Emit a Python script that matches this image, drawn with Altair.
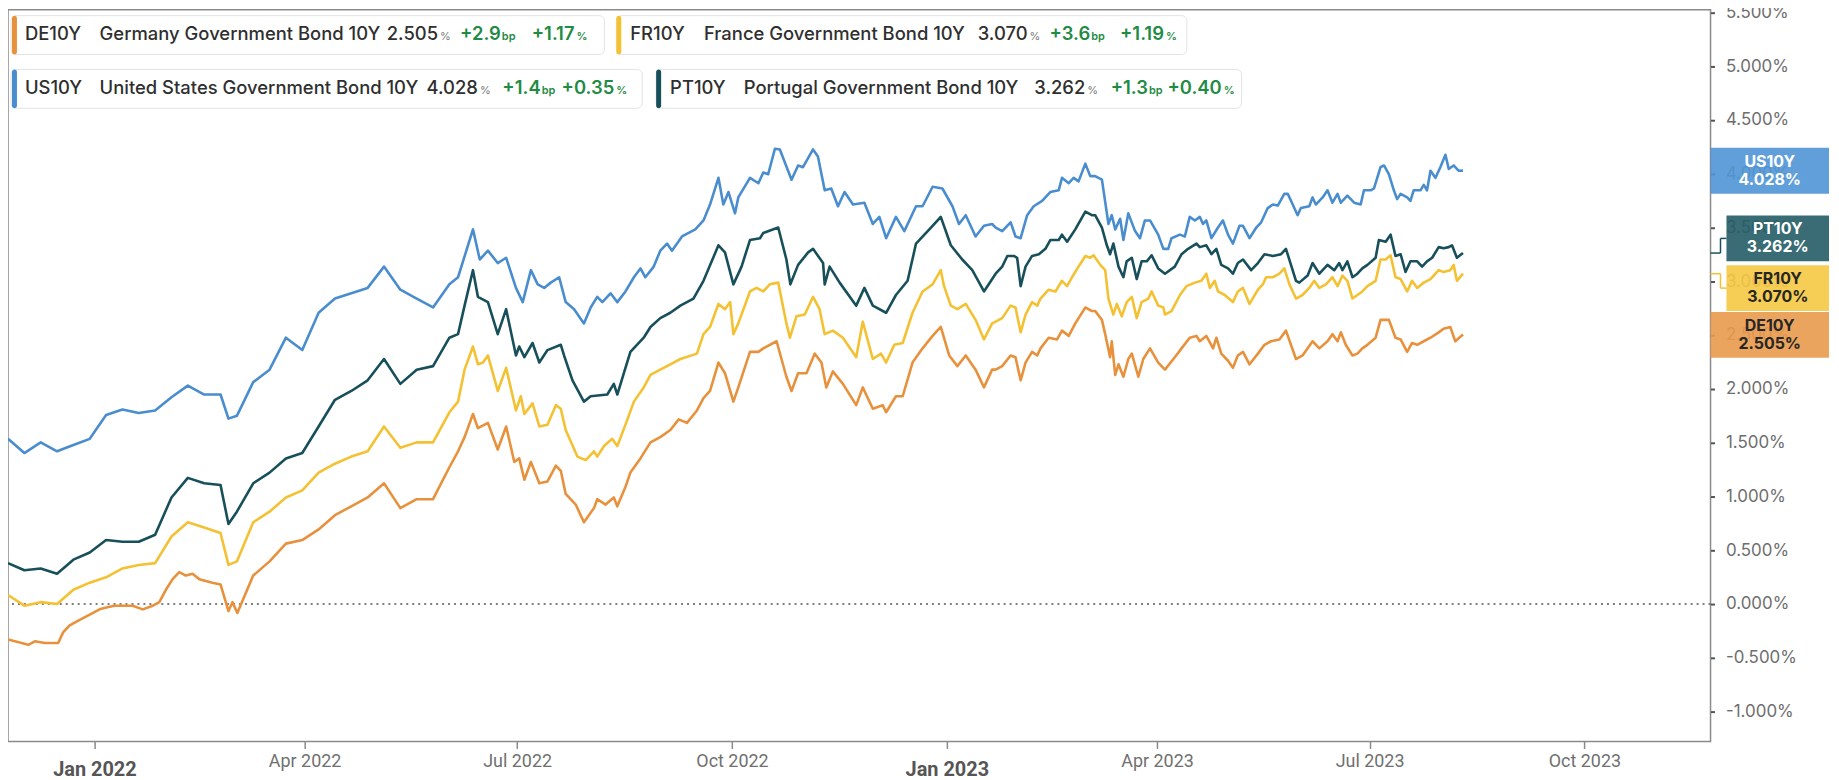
import altair as alt
import pandas as pd

# ---------------- data ----------------
# (days after 2021-11-25, yield in %)
us_pts = [
    (0, 1.535), (7, 1.403), (14, 1.502), (21, 1.419), (28, 1.478), (35, 1.535), (42, 1.756),
    (49, 1.808), (56, 1.775), (63, 1.798), (70, 1.921), (77, 2.030), (84, 1.947), (91, 1.947),
    (94.4, 1.723), (98, 1.749), (105, 2.062), (112, 2.178), (119, 2.475), (126, 2.360),
    (133, 2.707), (140, 2.839), (147, 2.888), (154, 2.938), (161, 3.136), (168, 2.921),
    (175, 2.839), (182, 2.756), (189, 2.971), (192.7, 3.037), (199.1, 3.482), (202.0, 3.202),
    (205.5, 3.284), (209.7, 3.169), (213.3, 3.218), (217.5, 2.938), (220.4, 2.806),
    (223.9, 3.103), (226.8, 2.971), (229.6, 2.938), (232.4, 2.987), (236.0, 3.037),
    (238.8, 2.806), (242.4, 2.740), (246.6, 2.608), (249.5, 2.756), (252.3, 2.855),
    (254.5, 2.806), (258.0, 2.888), (260.9, 2.806), (264.4, 2.905), (268.0, 3.037),
    (270.8, 3.119), (272.9, 3.037), (276.5, 3.136), (279.3, 3.284), (282.2, 3.350),
    (284.3, 3.284), (288.6, 3.416), (294.3, 3.482), (297.8, 3.565), (300.6, 3.713),
    (304.2, 3.961), (306.3, 3.713), (308.5, 3.829), (311.3, 3.631), (312.7, 3.779),
    (317.7, 3.961), (321.3, 3.911), (323.4, 4.010), (325.5, 3.994), (328.4, 4.232),
    (330.5, 4.225), (335.5, 3.944), (338.3, 4.076), (340.4, 4.060), (344.7, 4.225),
    (346.8, 4.159), (349.7, 3.845), (352.5, 3.862), (355.4, 3.697), (358.2, 3.829),
    (361.8, 3.713), (366.7, 3.730), (370.3, 3.532), (373.1, 3.598), (376.0, 3.400),
    (380.2, 3.598), (383.8, 3.466), (388.8, 3.697), (391.6, 3.697), (395.9, 3.878),
    (400.1, 3.862), (404.4, 3.697), (407.2, 3.532), (410.1, 3.614), (414.3, 3.416),
    (417.9, 3.515), (421.4, 3.532), (422.9, 3.499), (425.7, 3.466), (429.3, 3.548),
    (431.4, 3.416), (433.6, 3.400), (436.4, 3.614), (439.2, 3.697), (442.8, 3.746),
    (446.3, 3.829), (449.9, 3.845), (451.3, 3.961), (454.2, 3.911), (456.3, 3.961),
    (458.4, 3.928), (461.3, 4.093), (463.4, 3.977), (465.5, 3.977), (468.4, 3.944),
    (471.2, 3.532), (472.6, 3.614), (474.1, 3.482), (476.2, 3.581), (477.6, 3.383),
    (479.7, 3.631), (482.6, 3.466), (484.7, 3.400), (486.8, 3.565), (489.0, 3.565),
    (492.5, 3.433), (494.7, 3.301), (496.8, 3.301), (498.2, 3.400), (501.8, 3.433),
    (503.9, 3.416), (506.0, 3.598), (508.2, 3.565), (510.3, 3.598), (511.7, 3.532),
    (513.1, 3.565), (515.3, 3.400), (518.1, 3.499), (520.2, 3.565), (522.4, 3.433),
    (524.5, 3.350), (527.3, 3.515), (528.8, 3.515), (531.6, 3.400), (534.5, 3.499),
    (536.6, 3.548), (539.4, 3.680), (541.6, 3.713), (543.7, 3.703), (546.5, 3.812),
    (548.0, 3.812), (550.1, 3.713), (552.2, 3.614), (553.6, 3.680), (557.2, 3.697),
    (558.6, 3.779), (560.0, 3.713), (562.9, 3.779), (565.0, 3.845), (567.1, 3.730),
    (569.3, 3.812), (570.7, 3.730), (573.5, 3.796), (576.4, 3.730), (579.2, 3.713),
    (580.6, 3.845), (583.5, 3.845), (584.9, 3.862), (587.7, 4.060), (589.2, 4.076),
    (591.3, 3.994), (593.4, 3.845), (594.8, 3.763), (596.3, 3.812), (599.1, 3.779),
    (600.5, 3.746), (601.9, 3.845), (604.8, 3.845), (606.2, 3.895), (607.6, 3.845),
    (609.1, 4.027), (611.2, 3.961), (613.3, 4.060), (615.5, 4.175), (616.9, 4.043),
    (619.0, 4.076), (621.1, 4.027), (623.0, 4.028),
]

pt_pts = [
    (0, 0.380), (7, 0.313), (14, 0.330), (21, 0.281), (28, 0.412), (35, 0.478), (42, 0.594),
    (49, 0.578), (56, 0.578), (63, 0.644), (70, 0.990), (77, 1.172), (84, 1.122), (91, 1.106),
    (94.4, 0.743), (98, 0.858), (105, 1.122), (112, 1.221), (119, 1.353), (126, 1.403),
    (133, 1.650), (140, 1.898), (147, 1.980), (154, 2.079), (161, 2.277), (168, 2.046),
    (175, 2.178), (182, 2.211), (189, 2.475), (192.7, 2.508), (195.5, 2.773), (199.1, 3.103),
    (201.2, 2.855), (205.5, 2.806), (209.7, 2.508), (213.3, 2.740), (217.5, 2.310),
    (218.9, 2.393), (221.1, 2.294), (224.6, 2.426), (227.5, 2.245), (231.0, 2.360),
    (236.7, 2.409), (238.1, 2.310), (241.7, 2.079), (246.6, 1.881), (249.5, 1.931),
    (256.6, 1.947), (259.4, 2.046), (260.9, 1.947), (263.7, 2.145), (266.5, 2.343),
    (272.2, 2.475), (275.1, 2.575), (279.3, 2.657), (283.6, 2.707), (287.9, 2.773),
    (293.5, 2.839), (297.8, 3.004), (304.2, 3.334), (307.0, 3.268), (310.6, 2.971),
    (314.1, 3.136), (317.7, 3.383), (322.0, 3.400), (323.4, 3.449), (329.8, 3.499),
    (333.3, 3.202), (335.0, 2.971), (338.3, 3.152), (342.6, 3.268), (344.7, 3.301),
    (349.0, 3.169), (349.7, 2.971), (351.8, 3.136), (356.1, 2.987), (363.2, 2.773),
    (366.7, 2.938), (370.3, 2.773), (376.0, 2.707), (380.2, 2.872), (385.2, 3.004),
    (388.8, 3.350), (395.2, 3.499), (399.4, 3.598), (403.7, 3.334), (408.6, 3.202),
    (412.9, 3.103), (417.9, 2.905), (422.9, 3.070), (425.7, 3.136), (427.9, 3.235),
    (430.7, 3.235), (432.1, 3.218), (433.6, 2.954), (435.7, 3.136), (438.5, 3.235),
    (441.4, 3.251), (444.2, 3.301), (446.3, 3.383), (449.9, 3.383), (451.3, 3.433),
    (453.5, 3.367), (457.0, 3.482), (461.3, 3.647), (464.1, 3.614), (465.5, 3.614),
    (468.4, 3.499), (470.5, 3.334), (471.9, 3.251), (473.3, 3.350), (475.5, 3.136),
    (477.6, 3.037), (479.0, 3.185), (481.2, 3.218), (483.3, 3.020), (485.4, 3.185),
    (487.6, 3.185), (489.7, 3.241), (492.5, 3.119), (495.4, 3.070), (499.6, 3.136),
    (502.5, 3.251), (505.3, 3.301), (508.9, 3.350), (510.3, 3.317), (513.1, 3.334),
    (515.3, 3.251), (517.4, 3.301), (519.5, 3.152), (522.4, 3.119), (524.5, 3.070),
    (526.6, 3.169), (528.8, 3.202), (532.3, 3.103), (535.2, 3.169), (538.0, 3.251),
    (541.6, 3.235), (545.1, 3.251), (547.2, 3.301), (551.5, 3.004), (552.9, 2.987),
    (556.5, 3.053), (558.6, 3.169), (561.5, 3.070), (565.0, 3.152), (567.9, 3.103),
    (570.0, 3.169), (571.4, 3.103), (573.5, 3.185), (575.7, 3.037), (577.8, 3.070),
    (579.9, 3.119), (582.1, 3.152), (585.6, 3.218), (587.0, 3.383), (589.9, 3.367),
    (592.0, 3.433), (594.1, 3.235), (596.3, 3.251), (598.4, 3.086), (600.5, 3.185),
    (603.4, 3.185), (605.5, 3.136), (607.6, 3.185), (609.8, 3.218), (612.6, 3.317),
    (614.7, 3.307), (616.9, 3.317), (618.3, 3.334), (620.4, 3.218), (623.0, 3.262),
]

fr_pts = [
    (0, 0.083), (7, -0.016), (14, 0.017), (21, 0.000), (28, 0.132), (35, 0.198), (42, 0.248),
    (49, 0.330), (56, 0.363), (63, 0.380), (70, 0.627), (77, 0.759), (84, 0.710), (91, 0.660),
    (94.4, 0.363), (98, 0.396), (105, 0.759), (112, 0.858), (119, 0.990), (126, 1.056),
    (133, 1.221), (140, 1.304), (147, 1.370), (154, 1.419), (161, 1.650), (168, 1.452),
    (175, 1.502), (182, 1.502), (189, 1.782), (192.7, 1.881), (195.5, 2.178), (199.1, 2.393),
    (201.2, 2.228), (203.4, 2.244), (205.5, 2.310), (209.7, 1.980), (213.3, 2.195),
    (217.5, 1.799), (219.6, 1.931), (221.1, 1.766), (224.6, 1.865), (227.5, 1.650),
    (231.0, 1.667), (234.6, 1.848), (236.7, 1.815), (238.8, 1.617), (243.8, 1.370),
    (247.4, 1.337), (250.9, 1.419), (252.3, 1.370), (255.2, 1.469), (258.7, 1.535),
    (260.9, 1.469), (264.4, 1.667), (268.0, 1.881), (272.2, 2.013), (275.1, 2.129),
    (279.3, 2.178), (283.6, 2.228), (287.9, 2.277), (295.0, 2.327), (297.8, 2.508),
    (300.6, 2.575), (304.2, 2.789), (307.0, 2.740), (309.2, 2.806), (310.6, 2.508),
    (312.7, 2.608), (317.7, 2.905), (320.5, 2.938), (323.4, 2.905), (326.2, 2.971),
    (329.8, 2.987), (333.3, 2.608), (334.8, 2.475), (337.6, 2.674), (341.2, 2.690),
    (344.7, 2.855), (347.5, 2.740), (349.7, 2.508), (353.2, 2.541), (357.5, 2.475),
    (363.2, 2.294), (366.0, 2.624), (370.3, 2.277), (373.8, 2.327), (376.0, 2.244),
    (379.5, 2.409), (383.1, 2.426), (387.3, 2.707), (391.6, 2.905), (395.9, 2.971),
    (399.4, 3.103), (400.8, 2.954), (403.7, 2.773), (406.5, 2.740), (410.1, 2.789),
    (414.3, 2.641), (417.9, 2.459), (421.4, 2.608), (422.9, 2.624), (425.7, 2.657),
    (429.3, 2.773), (431.4, 2.756), (433.6, 2.525), (435.7, 2.690), (438.5, 2.806),
    (440.7, 2.773), (442.1, 2.839), (445.6, 2.921), (448.5, 2.905), (451.3, 3.004),
    (453.5, 2.954), (455.6, 3.037), (458.4, 3.136), (461.3, 3.235), (463.4, 3.218),
    (464.8, 3.241), (467.7, 3.152), (469.8, 3.103), (471.2, 2.839), (473.3, 2.690),
    (474.8, 2.789), (476.9, 2.674), (479.0, 2.806), (481.2, 2.855), (483.3, 2.657),
    (485.4, 2.806), (488.3, 2.839), (489.7, 2.905), (492.5, 2.773), (494.7, 2.756),
    (495.4, 2.690), (498.2, 2.723), (501.8, 2.872), (504.6, 2.954), (508.2, 2.987),
    (511.0, 3.004), (513.1, 3.070), (514.6, 2.938), (516.7, 3.004), (518.1, 2.905),
    (521.0, 2.872), (524.5, 2.806), (526.6, 2.905), (528.8, 2.938), (531.6, 2.789),
    (535.2, 2.921), (537.3, 2.971), (538.7, 3.037), (541.6, 3.037), (544.4, 3.070),
    (546.5, 3.119), (548.7, 2.971), (551.5, 2.839), (554.3, 2.872), (557.2, 2.938),
    (559.3, 3.004), (561.5, 2.938), (564.3, 2.971), (567.1, 3.037), (569.3, 2.954),
    (571.4, 3.053), (573.5, 3.004), (575.7, 2.839), (577.8, 2.872), (579.9, 2.905),
    (582.1, 2.954), (585.6, 3.004), (587.7, 3.202), (589.9, 3.202), (592.0, 3.241),
    (594.1, 3.037), (596.3, 3.020), (599.1, 2.905), (601.2, 3.004), (603.4, 2.938),
    (606.2, 2.987), (609.1, 3.020), (612.6, 3.103), (614.7, 3.086), (617.6, 3.103),
    (619.0, 3.152), (620.4, 3.004), (623.0, 3.070),
]

de_pts = [
    (0.0, -0.330), (8.7, -0.380), (11.5, -0.347), (15.8, -0.363), (21.5, -0.363),
    (23.6, -0.264), (26.4, -0.198), (30.7, -0.148), (35.0, -0.099), (39.2, -0.050),
    (42.1, -0.033), (45.6, -0.016), (53.4, -0.016), (57.7, -0.050), (62.0, -0.016),
    (64.8, 0.017), (67.6, 0.132), (70.5, 0.231), (73.3, 0.297), (76.2, 0.264), (79.0, 0.281),
    (81.9, 0.231), (87.5, 0.198), (91.0, 0.182), (94.4, -0.066), (96.1, 0.017),
    (98.2, -0.083), (105.0, 0.264), (112.0, 0.396), (119.0, 0.561), (126.0, 0.594),
    (133.0, 0.693), (140.0, 0.825), (147.0, 0.908), (154.0, 0.990), (161.0, 1.122),
    (168.0, 0.891), (175.0, 0.974), (182.0, 0.974), (189.0, 1.271), (192.7, 1.419),
    (195.5, 1.551), (199.1, 1.766), (201.2, 1.634), (205.5, 1.683), (209.7, 1.436),
    (213.3, 1.650), (216.8, 1.320), (218.9, 1.353), (221.1, 1.155), (223.9, 1.320),
    (227.5, 1.122), (231.0, 1.139), (234.6, 1.287), (236.7, 1.238), (238.8, 1.023),
    (243.1, 0.924), (246.6, 0.759), (250.9, 0.891), (252.3, 0.974), (255.9, 0.924),
    (259.4, 0.990), (260.9, 0.908), (264.4, 1.089), (266.5, 1.221), (270.8, 1.353),
    (275.1, 1.502), (279.3, 1.551), (283.6, 1.617), (287.2, 1.716), (290.7, 1.683),
    (295.0, 1.799), (297.8, 1.914), (300.6, 1.980), (304.2, 2.244), (307.0, 2.145),
    (310.6, 1.881), (312.7, 2.013), (317.7, 2.343), (321.3, 2.343), (323.4, 2.376),
    (329.1, 2.442), (333.3, 2.112), (335.5, 1.980), (338.3, 2.145), (341.9, 2.145),
    (345.4, 2.327), (348.3, 2.244), (350.4, 2.013), (353.2, 2.162), (357.5, 2.046),
    (363.2, 1.848), (366.0, 2.013), (370.3, 1.815), (374.5, 1.848), (376.0, 1.782),
    (380.2, 1.931), (383.1, 1.931), (387.3, 2.244), (391.6, 2.376), (395.9, 2.492),
    (399.4, 2.575), (403.0, 2.310), (406.5, 2.211), (410.1, 2.310), (414.3, 2.178),
    (417.9, 2.013), (421.4, 2.178), (422.9, 2.178), (425.7, 2.211), (429.3, 2.310),
    (431.4, 2.294), (433.6, 2.079), (435.7, 2.244), (438.5, 2.343), (440.7, 2.310),
    (442.1, 2.376), (445.6, 2.475), (449.2, 2.459), (451.3, 2.541), (454.2, 2.492),
    (457.0, 2.608), (461.3, 2.756), (464.1, 2.723), (465.5, 2.723), (468.4, 2.641),
    (469.8, 2.508), (471.9, 2.294), (472.6, 2.442), (474.1, 2.129), (475.5, 2.228),
    (477.6, 2.112), (479.7, 2.277), (481.2, 2.327), (484.0, 2.112), (486.1, 2.277),
    (489.0, 2.376), (492.5, 2.244), (495.4, 2.178), (499.6, 2.294), (502.5, 2.376),
    (506.0, 2.475), (508.9, 2.492), (510.3, 2.442), (513.1, 2.492), (516.0, 2.376),
    (517.4, 2.475), (519.5, 2.327), (522.4, 2.261), (524.5, 2.195), (526.6, 2.310),
    (528.8, 2.343), (531.6, 2.228), (535.2, 2.327), (538.0, 2.409), (540.8, 2.442),
    (544.4, 2.459), (547.2, 2.541), (551.5, 2.277), (554.3, 2.310), (556.5, 2.376),
    (558.6, 2.442), (561.5, 2.376), (565.0, 2.442), (567.1, 2.508), (569.3, 2.442),
    (570.7, 2.525), (572.8, 2.409), (575.7, 2.310), (577.8, 2.327), (579.9, 2.376),
    (582.1, 2.409), (585.6, 2.475), (587.7, 2.641), (591.3, 2.641), (594.1, 2.475),
    (596.3, 2.459), (599.1, 2.343), (601.2, 2.426), (603.4, 2.409), (606.2, 2.442),
    (609.1, 2.475), (612.6, 2.525), (614.7, 2.558), (617.6, 2.574), (619.7, 2.442),
    (623.0, 2.505),
]

codes = ["DE10Y", "FR10Y", "US10Y", "PT10Y"]
names = ["Germany Government Bond 10Y", "France Government Bond 10Y",
         "United States Government Bond 10Y", "Portugal Government Bond 10Y"]
last_vals = [2.505, 3.070, 4.028, 3.262]
chg_bp = ["+2.9", "+3.6", "+1.4", "+1.3"]
chg_pct = ["+1.17", "+1.19", "+0.35", "+0.40"]
label_pos = [2.502, 2.936, 4.027, 3.398]   # centre of the end-label boxes

line_colors = ["#e8913c", "#f3c132", "#4a8dcf", "#174f5a"]
box_colors = ["#e99a4b", "#f5c843", "#4f95d6", "#245c66"]
box_text_colors = ["#262626", "#262626", "#ffffff", "#ffffff"]

y_ticks = [-1.0, -0.5, 0.0, 0.5, 1.0, 1.5, 2.0, 2.5, 3.0, 3.5, 4.0, 4.5, 5.0, 5.5]
x_ticks = [(2022, 1), (2022, 4), (2022, 7), (2022, 10),
           (2023, 1), (2023, 4), (2023, 7), (2023, 10)]

# ---------------- layout ----------------
W, H = 1710, 735
yscale = alt.Scale(domain=[-1.278, 5.524], nice=False, zero=False)
xscale = alt.Scale(domain=[alt.DateTime(year=2021, month=11, date=25),
                           alt.DateTime(year=2023, month=11, date=24)], nice=False)

start = pd.Timestamp("2021-11-25")
frames = []
for code, pts in zip(codes, [de_pts, fr_pts, us_pts, pt_pts]):
    days = [p[0] for p in pts]
    vals = [p[1] for p in pts]
    frames.append(pd.DataFrame({
        "date": start + pd.to_timedelta(days, unit="D"),
        "value": vals, "code": code, "order": range(len(pts))}))
df = pd.concat(frames, ignore_index=True)

xaxis = alt.Axis(
    values=[alt.DateTime(year=y, month=m, date=1) for y, m in x_ticks],
    format="%b %Y", labelFont="Roboto",
    labelExpr="month(datum.value) == 0 ? ['', datum.label] : datum.label",
    labelLineHeight=7,
    labelFontSize=alt.ExprRef(expr="month(datum.value) == 0 ? 20 : 18"),
    labelFontWeight=alt.ExprRef(expr="month(datum.value) == 0 ? 'bold' : 'normal'"),
    labelColor=alt.ExprRef(expr="month(datum.value) == 0 ? '#555555' : '#707070'"),
    tickSize=7, tickColor="#8a8a8a", tickWidth=1.5, domain=False, grid=False,
    labelPadding=4, labelFlush=False, labelOverlap=False, title=None,
)
yaxis = alt.Axis(
    orient="right", values=y_ticks,
    labelExpr="replace(format(datum.value, '.3f'), '\u2212', '-') + '%'",
    labelFont="Inter", labelFontSize=17, labelColor="#6e6e6e",
    tickSize=4, tickWidth=2, tickColor="#555555", labelPadding=11,
    domain=False, grid=False, title=None, labelFlush=False, labelOverlap=False,
)


def yenc(field):
    return alt.Y(field, scale=yscale, axis=yaxis)


lines = alt.Chart(df).mark_line(strokeWidth=2.6, strokeJoin="round").encode(
    x=alt.X("date:T", scale=xscale, axis=xaxis),
    y=yenc("value:Q"),
    color=alt.Color("code:N", scale=alt.Scale(domain=codes, range=line_colors), legend=None),
    order="order:Q",
)

zero = alt.Chart(pd.DataFrame({"z": [0.0]})).mark_rule(
    strokeDash=[2, 4], color="#555555", strokeWidth=1.5
).encode(y=yenc("z:Q"))

layers = [zero, lines]
one = pd.DataFrame({"k": [0]})

# ---------------- end labels on the right ----------------
half = 0.213
box_x0 = [W, W + 16, W, W + 16]
for i in range(4):
    bx = box_x0[i]
    cx = (bx + W + 119) / 2
    d = pd.DataFrame({"lo": [label_pos[i] - half], "hi": [label_pos[i] + half],
                      "mid": [label_pos[i]], "v": [last_vals[i]]})
    layers.append(alt.Chart(d).mark_rect(fill=box_colors[i], opacity=0.9).encode(
        x=alt.value(bx), x2=alt.value(W + 119),
        y=yenc("lo:Q"), y2="hi:Q"))
    for txt, dy in [(codes[i], -9), (f"{last_vals[i]:.3f}%", 9)]:
        layers.append(alt.Chart(d).mark_text(
            text=txt, font="Inter", fontWeight="bold", fontSize=16,
            color=box_text_colors[i], dy=dy, baseline="middle", align="center"
        ).encode(x=alt.value(cx), y=yenc("mid:Q")))
    if bx != W:
        c = line_colors[i]
        layers.append(alt.Chart(d).mark_rule(color=c, strokeWidth=1.5).encode(
            x=alt.value(W), x2=alt.value(W + 10), y=yenc("v:Q")))
        layers.append(alt.Chart(d).mark_rule(color=c, strokeWidth=1.5).encode(
            x=alt.value(W + 10), y=yenc("v:Q"), y2="mid:Q"))
        layers.append(alt.Chart(d).mark_rule(color=c, strokeWidth=1.5).encode(
            x=alt.value(W + 10), x2=alt.value(bx), y=yenc("mid:Q")))

# ---------------- legend cards at the top ----------------
# (box left, box right, bar left, ticker x, name x, value x, row)
cards = [
    (3, 599, 4, 17, 92, 382, 0),
    (611, 1184, 611, 625, 699, 974, 0),
    (3, 637, 4, 17, 92, 422, 1),
    (651, 1239, 651, 665, 739, 1032, 1),
]
row_box = [(6, 45), (60, 99)]
row_base = [30, 84.5]
dark = "#2f2f2f"
green = "#1f8b45"
BIG = 18.5
for i, (b0, b1, bar0, tx, nx, vx, r) in enumerate(cards):
    y0, y1 = row_box[r]
    yb = row_base[r]
    layers.append(alt.Chart(one).mark_rect(
        fill="white", stroke="#e3e3e3", strokeWidth=1, cornerRadius=5
    ).encode(x=alt.value(b0), x2=alt.value(b1), y=alt.value(y0), y2=alt.value(y1)))
    layers.append(alt.Chart(one).mark_rect(
        fill=line_colors[i], cornerRadius=2.5
    ).encode(x=alt.value(bar0), x2=alt.value(bar0 + 5), y=alt.value(y0), y2=alt.value(y1)))
    pieces = [
        (tx, codes[i], BIG, 500, dark, "left"),
        (nx, names[i], BIG, 500, dark, "left"),
        (vx + 50, f"{last_vals[i]:.3f}", BIG, 500, dark, "right"),
        (vx + 52, "%", 11, 400, "#7a7a7a", "left"),
        (vx + 113, chg_bp[i], BIG, 600, green, "right"),
        (vx + 114, "bp", 11, 600, green, "left"),
        (vx + 187, chg_pct[i], BIG, 600, green, "right"),
        (vx + 189, "%", 11, 600, green, "left"),
    ]
    for px, txt, fs, fw, col, al in pieces:
        layers.append(alt.Chart(one).mark_text(
            text=txt, font="Inter", fontSize=fs, fontWeight=fw, color=col,
            align=al, baseline="alphabetic"
        ).encode(x=alt.value(px), y=alt.value(yb)))

chart = alt.layer(*layers).properties(
    width=W, height=H,
    autosize=alt.AutoSizeParams(type="none"),
    padding={"left": 0, "top": 0, "right": 121, "bottom": 37},
    background="white",
).configure_view(stroke="#8a8a8a", strokeWidth=1.5)

chart.save("out.html", embed_options={"renderer": "svg", "actions": False})
